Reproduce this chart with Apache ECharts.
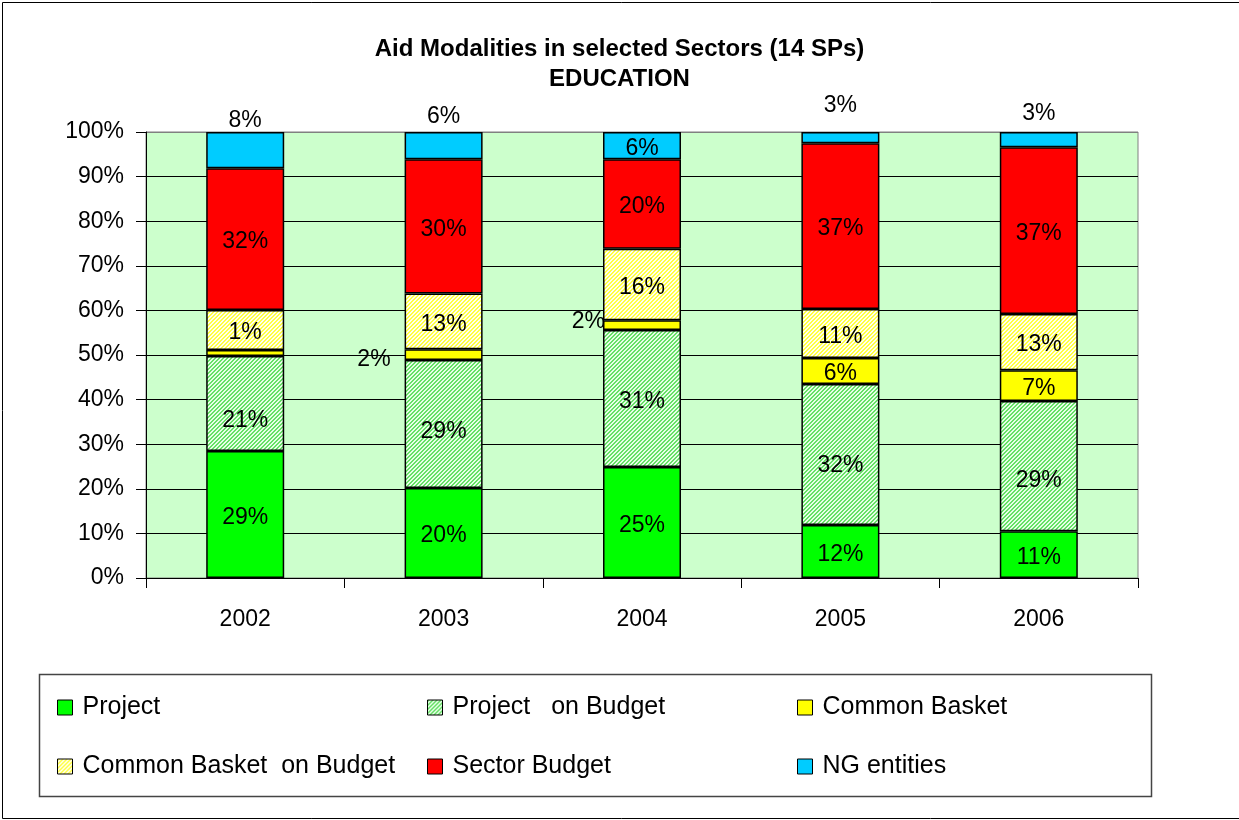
<!DOCTYPE html>
<html>
<head>
<meta charset="utf-8">
<script src="https://cdn.jsdelivr.net/npm/echarts@6/dist/echarts.min.js"></script>
<style>
html,body{margin:0;padding:0;background:#fff;}
#chart{width:1239px;height:820px;}
</style>
</head>
<body>
<div id="chart"></div>
<script>
const years = ['2002', '2003', '2004', '2005', '2006'];
const seriesNames = ['Project', 'Project   on Budget', 'Common Basket', 'Common Basket  on Budget', 'Sector Budget', 'NG entities'];
const project = [28.5, 20.2, 24.9, 11.9, 10.5];
const projectOnBudget = [21.3, 28.7, 30.7, 31.6, 29.2];
const commonBasket = [1.3, 2.4, 2.2, 5.8, 6.9];
const commonBasketOnBudget = [9.0, 12.5, 16.0, 11.0, 12.6];
const sectorBudget = [31.8, 30.1, 20.1, 37.2, 37.4];
const ngEntities = [8.1, 6.1, 6.1, 2.5, 3.4];
const projectLabels = ['29%', '20%', '25%', '12%', '11%'];
const projectOnBudgetLabels = ['21%', '29%', '31%', '32%', '29%'];
const commonBasketLabels = ['1%', '2%', '2%', '6%', '7%'];
const commonBasketOnBudgetLabels = ['', '13%', '16%', '11%', '13%'];
const sectorBudgetLabels = ['32%', '30%', '20%', '37%', '37%'];
const ngEntitiesLabels = ['8%', '6%', '6%', '3%', '3%'];
const yTicks = [0, 10, 20, 30, 40, 50, 60, 70, 80, 90, 100];

const FONT = '"Liberation Sans", Arial, sans-serif';

function makePattern(base, stripe) {
  const c = document.createElement('canvas');
  c.width = 4; c.height = 4;
  const ctx = c.getContext('2d');
  ctx.fillStyle = base; ctx.fillRect(0, 0, 4, 4);
  ctx.fillStyle = stripe;
  for (let x = 0; x < 4; x++) for (let y = 0; y < 4; y++) {
    const k = (x + y) % 4;
    if (k === 0 || k === 1) ctx.fillRect(x, y, 1, 1);
  }
  return { image: c, repeat: 'repeat' };
}

const colors = [
  '#00FF00',
  makePattern('#e6ffe6', '#66e066'),
  '#FFFF00',
  makePattern('#ffffee', '#ffff44'),
  '#FF0000',
  '#00CCFF'
];

const labelBase = { show: true, position: 'inside', color: '#000', fontSize: 23, fontFamily: FONT, offset: [0, 3] };

function buildData(values, labels, overrides) {
  return values.map((v, i) => {
    const item = { value: v, label: Object.assign({}, labelBase, { formatter: labels[i] }) };
    if (!labels[i]) item.label.show = false;
    if (overrides && overrides[i]) Object.assign(item.label, overrides[i]);
    return item;
  });
}

const pobOverrides = [
  { offset: [0, 17] }, { offset: [0, 8] }, { offset: [0, 3] }, { offset: [0, 11] }, { offset: [0, 15] }
];
const cbOverrides = [
  { offset: [0, -20] },
  { position: 'left', distance: 14, offset: [0, 5] },
  { position: 'left', distance: -2, offset: [0, -3] },
  null, null
];
const ngOverrides = [
  { position: 'top', distance: 0, offset: [0, 0] },
  { position: 'top', distance: 4, offset: [0, 0] },
  null,
  { position: 'top', distance: 15, offset: [0, 0] },
  { position: 'top', distance: 7, offset: [0, 0] }
];

const valueSets = [project, projectOnBudget, commonBasket, commonBasketOnBudget, sectorBudget, ngEntities];
const labelSets = [projectLabels, projectOnBudgetLabels, commonBasketLabels, commonBasketOnBudgetLabels, sectorBudgetLabels, ngEntitiesLabels];
const overrideSets = [null, pobOverrides, cbOverrides, null, null, ngOverrides];

const series = valueSets.map((vals, si) => ({
  name: seriesNames[si],
  type: 'bar',
  stack: 'total',
  barWidth: 78,
  itemStyle: { color: colors[si], borderColor: '#000', borderWidth: 1.5 },
  emphasis: { disabled: true },
  data: buildData(vals, labelSets[si], overrideSets[si]),
  z: 3
}));

const legendCommon = {
  orient: 'vertical',
  icon: 'rect',
  itemWidth: 15,
  itemHeight: 15,
  itemGap: 34,
  top: 695,
  padding: 0,
  selectedMode: false,
  itemStyle: { borderColor: '#000', borderWidth: 1 },
  textStyle: { fontSize: 25, color: '#000', fontFamily: FONT, lineHeight: 25, padding: [0, 0, 0, 5] }
};

const splitColors = yTicks.map((t, i) => i === yTicks.length - 1 ? '#808080' : '#000000');

const option = {
  animation: false,
  backgroundColor: '#fff',
  title: {
    text: 'Aid Modalities in selected Sectors (14 SPs)\nEDUCATION',
    left: 'center',
    top: 29,
    textStyle: { fontSize: 24, fontWeight: 'bold', color: '#000', fontFamily: FONT, lineHeight: 30 }
  },
  legend: [
    Object.assign({}, legendCommon, { left: 57, data: [seriesNames[0], seriesNames[3]] }),
    Object.assign({}, legendCommon, { left: 427, data: [seriesNames[1], seriesNames[4]] }),
    Object.assign({}, legendCommon, { left: 797, data: [seriesNames[2], seriesNames[5]] })
  ],
  grid: {
    left: 146, right: 101, top: 132, bottom: 242,
    show: true, backgroundColor: '#CCFFCC', borderColor: '#808080', borderWidth: 1
  },
  xAxis: {
    type: 'category',
    data: years,
    axisLine: { lineStyle: { color: '#000', width: 1 } },
    axisTick: { show: true, length: 10, interval: 0, lineStyle: { color: '#000' } },
    axisLabel: { fontSize: 23, color: '#000', fontFamily: FONT, margin: 30 },
    splitLine: { show: false }
  },
  yAxis: {
    type: 'value',
    min: 0, max: 100, interval: 10,
    axisLine: { show: true, lineStyle: { color: '#000', width: 1 } },
    axisTick: { show: true, length: 10, lineStyle: { color: '#000' } },
    axisLabel: { fontSize: 23, color: '#000', fontFamily: FONT, margin: 22, formatter: '{value}%' },
    splitLine: { show: true, lineStyle: { color: splitColors, width: 1 } }
  },
  graphic: [
    { type: 'rect', shape: { x: 2.5, y: 2.5, width: 1245, height: 816 }, style: { fill: 'none', stroke: '#000', lineWidth: 1 }, z: 0, silent: true },
    { type: 'rect', shape: { x: 39.5, y: 674.5, width: 1112, height: 122 }, style: { fill: 'none', stroke: '#444', lineWidth: 1.5 }, z: 0, silent: true }
  ],
  series: series
};

const chart = echarts.init(document.getElementById('chart'), null, { renderer: 'canvas' });
chart.setOption(option);
</script>
</body>
</html>
